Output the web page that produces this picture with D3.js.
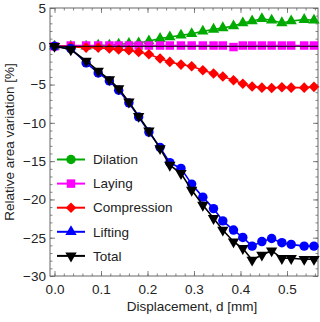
<!DOCTYPE html>
<html>
<head>
<meta charset="utf-8">
<script src="https://cdn.jsdelivr.net/npm/d3@7"></script>
<style>
  body { margin: 0; background: #fff; }
  svg { display: block; font-family: "Liberation Sans", Arial, sans-serif; }
</style>
</head>
<body>
<svg id="chart"></svg>
<script>
// displacement values (mm), shared by all series
const disp = [0, 0.035, 0.068, 0.094, 0.118, 0.138, 0.160, 0.181, 0.203, 0.227, 0.248, 0.272, 0.295,
    0.319, 0.342, 0.362, 0.385, 0.405, 0.425, 0.446, 0.467, 0.489, 0.509, 0.537, 0.558];

const dilation = [0, 0, 0, 0.13, 0.13, 0.26, 0.35, 0.43, 0.69, 1.0, 1.21, 1.43, 1.64, 1.96, 2.2, 2.4,
    2.65, 3.04, 3.3, 3.6, 3.4, 3.05, 3.3, 3.48, 3.4];
const laying = [0, 0.1, 0.1, 0.1, 0.1, 0.1, 0.1, 0.1, 0.1, 0.1, 0.1, 0.1, 0.1, 0.1, 0.1, 0.1,
    -0.1, 0.1, 0.1, 0.1, 0.1, 0.1, 0.1, 0.1, 0.1];
const compression = [0, -0.05, -0.17, -0.17, -0.3, -0.43, -0.52, -0.74, -1.04, -1.6, -2.04, -2.39, -2.6,
    -3.13, -3.56, -3.95, -4.43, -4.9, -5.25, -5.4, -5.45, -5.35, -5.4, -5.4, -5.3];
const lifting = [0, -0.3, -2.17, -3.48, -4.52, -5.74, -7.39, -9.22, -11.2, -13.2, -15.2, -15.95, -18.0,
    -19.7, -21.2, -22.8, -24.0, -24.96, -26.1, -25.5, -25.1, -25.65, -25.87, -26.1, -26.1];
const total = [0, -0.43, -1.92, -3.22, -4.34, -5.52, -7.26, -9.13, -11.05, -13.34, -15.52, -16.6, -18.78,
    -20.74, -22.47, -24.0, -25.52, -26.39, -27.91, -27.26, -26.7, -27.69, -27.69, -27.82, -27.82];

const seriesNames = ["Dilation", "Laying", "Compression", "Lifting", "Total"];
const xTicks = [0, 0.1, 0.2, 0.3, 0.4, 0.5];
const yTicks = [5, 0, -5, -10, -15, -20, -25, -30];

const W = 320, H = 322;
const L = 50, R = 318, T = 8, B = 276;

let svg = d3.select("#chart").attr("width", W).attr("height", H);

const x = d3.scaleLinear().domain([-0.0097, 0.5667]).range([L, R]);
const y = d3.scaleLinear().domain([-30, 5]).range([B, T]);

const frameColor = "#666";
const textColor = "#222";

// minor ticks
const xMinor = d3.range(0, 0.57, 0.02);
const yMinor = d3.range(-30, 5.5, 1);

function tickAxis(axis, tf, size, values, labels) {
    let g = svg.append("g").attr("transform", tf)
        .call(axis.tickValues(values).tickSize(size).tickPadding(4)
            .tickFormat(labels ? labels : () => ""));
    g.select(".domain").remove();
    g.selectAll("line").attr("stroke", frameColor).attr("stroke-width", 0.8);
    g.selectAll("text").attr("fill", textColor).style("font-size", "13.5px")
        .style("font-family", "'Liberation Sans', Arial, sans-serif");
    return g;
}

const yFmt = d => (d < 0 ? "\u2212" + Math.abs(d) : String(d));
tickAxis(d3.axisLeft(y), `translate(${L},0)`, -5, yTicks, yFmt);
tickAxis(d3.axisLeft(y), `translate(${L},0)`, -2.5, yMinor, null);
tickAxis(d3.axisRight(y), `translate(${R},0)`, -5, yTicks, null);
tickAxis(d3.axisRight(y), `translate(${R},0)`, -2.5, yMinor, null);
tickAxis(d3.axisBottom(x), `translate(0,${B})`, -5, xTicks, d => d.toFixed(1))
    .selectAll("text").attr("dy", "1.0em");
tickAxis(d3.axisBottom(x), `translate(0,${B})`, -2.5, xMinor, null);
tickAxis(d3.axisTop(x), `translate(0,${T})`, -5, xTicks, null);
tickAxis(d3.axisTop(x), `translate(0,${T})`, -2.5, xMinor, null);

svg.append("rect").attr("x", L).attr("y", T).attr("width", R - L).attr("height", B - T)
    .attr("fill", "none").attr("stroke", frameColor).attr("stroke-width", 1);

// series: colour, marker drawn in the plot, marker in the legend
const green = "#00aa00", magenta = "#ff00ff", red = "#ff0000", blue = "#0000ff", black = "#000";
const series = [
    { name: seriesNames[0], vals: dilation, color: green, plotMark: "triUp", legMark: "circle" },
    { name: seriesNames[1], vals: laying, color: magenta, plotMark: "square", legMark: "square" },
    { name: seriesNames[2], vals: compression, color: red, plotMark: "diamond", legMark: "diamond" },
    { name: seriesNames[3], vals: lifting, color: blue, plotMark: "circle", legMark: "triUp" },
    { name: seriesNames[4], vals: total, color: black, plotMark: "triDown", legMark: "triDown" }
];

function marker(g, kind, cx, cy, color) {
    let type, size, rot = 0;
    if (kind === "circle") { type = d3.symbolCircle; size = 70; }
    else if (kind === "square") { type = d3.symbolSquare; size = 72; }
    else if (kind === "diamond") { type = d3.symbolSquare; size = 56; rot = 45; }
    else if (kind === "triUp") { type = d3.symbolTriangle; size = 56; }
    else { type = d3.symbolTriangle; size = 56; rot = 180; }
    g.append("path").attr("d", d3.symbol().type(type).size(size)())
        .attr("transform", `translate(${cx},${cy}) rotate(${rot})`)
        .attr("fill", color);
}

const line = d3.line().x((d, i) => x(disp[i])).y(d => y(d));

series.forEach(s => {
    let g = svg.append("g");
    g.append("path").attr("d", line(s.vals)).attr("fill", "none")
        .attr("stroke", s.color).attr("stroke-width", 1.6);
    s.vals.forEach((v, i) => marker(g, s.plotMark, x(disp[i]), y(v), s.color));
});

// zero axis line
svg.append("line").attr("x1", L).attr("x2", R).attr("y1", y(0)).attr("y2", y(0))
    .attr("stroke", "#000").attr("stroke-width", 1);

// legend
const leg = svg.append("g");
series.forEach((s, i) => {
    let cy = 159.5 + i * 24.1;
    leg.append("line").attr("x1", 57).attr("x2", 85).attr("y1", cy).attr("y2", cy)
        .attr("stroke", s.color).attr("stroke-width", 2);
    marker(leg, s.legMark, 71, cy, s.color);
    leg.append("text").attr("x", 93).attr("y", cy).attr("dy", "0.35em")
        .attr("fill", textColor).style("font-size", "13.5px").text(s.name);
});

// axis titles
svg.append("text").attr("x", 192).attr("y", 311).attr("text-anchor", "middle")
    .attr("fill", textColor).style("font-size", "13.5px").text("Displacement, d [mm]");
svg.append("text").attr("transform", "translate(14,142) rotate(-90)").attr("text-anchor", "middle")
    .attr("fill", textColor).style("font-size", "13.5px").text("Relative area variation [%]");
</script>
</body>
</html>
